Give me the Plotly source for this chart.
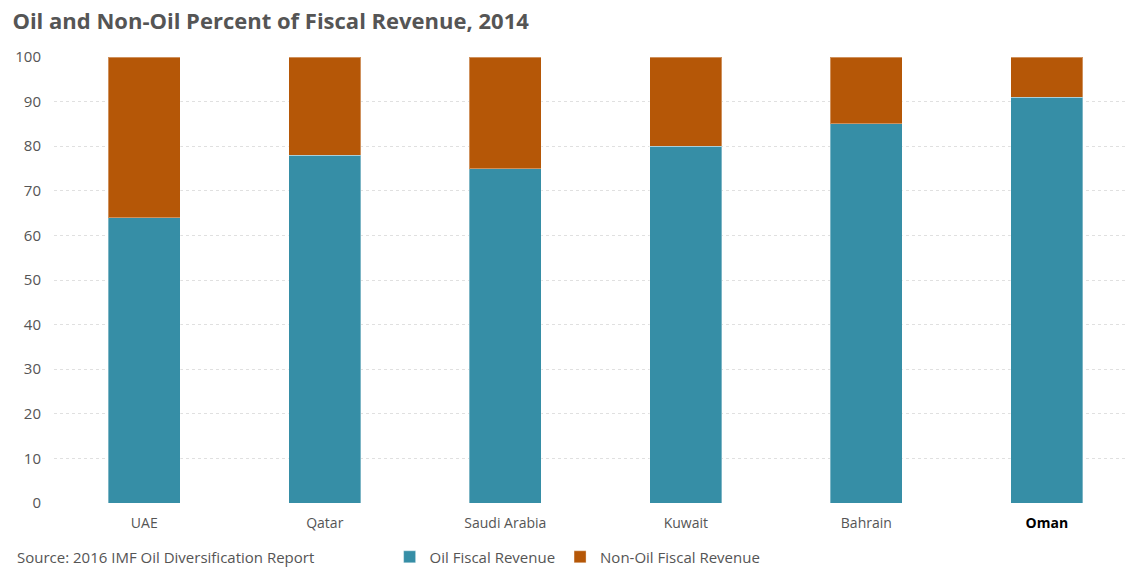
import plotly.graph_objects as go

countries = ["UAE", "Qatar", "Saudi Arabia", "Kuwait", "Bahrain", "Oman"]
oil_share = [64, 78, 75, 80, 85, 91]
non_oil_share = [36, 22, 25, 20, 15, 9]
y_ticks = [0, 10, 20, 30, 40, 50, 60, 70, 80, 90, 100]

tick_text = countries[:-1] + ["<span style='color:#000'><b>Oman</b></span>"]

FONT = "Open Sans, Lato, sans-serif"

fig = go.Figure()
fig.add_trace(go.Bar(
    x=countries, y=oil_share, name="Oil Fiscal Revenue",
    marker=dict(color="#368EA6", line=dict(color="rgba(255,255,255,0.35)", width=1)),
    width=0.4,
))
fig.add_trace(go.Bar(
    x=countries, y=non_oil_share, name="Non-Oil Fiscal Revenue",
    marker=dict(color="#B55707", line=dict(color="rgba(255,255,255,0.35)", width=1)),
    width=0.4,
))

fig.update_layout(
    barmode="stack",
    width=1127, height=569,
    margin=dict(l=54, r=0, t=57, b=66, autoexpand=False),
    paper_bgcolor="white", plot_bgcolor="white",
    font=dict(family=FONT, color="#555555", size=14),
    title=dict(
        text="<b>Oil and Non-Oil Percent of Fiscal Revenue, 2014</b>",
        x=0.011, xanchor="left", y=0.963, yanchor="middle",
        font=dict(family=FONT, size=22, color="#555555"),
    ),
    xaxis=dict(
        type="category", range=[-0.5, 5.444],
        tickmode="array", tickvals=countries, ticktext=tick_text,
        showgrid=False, showline=False, ticks="", ticklabelstandoff=10,
        tickfont=dict(size=14, color="#555555"),
    ),
    yaxis=dict(
        range=[0, 100], tickvals=y_ticks,
        showgrid=True, gridcolor="#e0e0e0", griddash="dot", gridwidth=1,
        zeroline=False, showline=False, ticks="", ticklabelstandoff=12,
        tickfont=dict(size=15, color="#555555"),
    ),
    legend=dict(
        orientation="h", x=0.488, xanchor="center",
        yref="container", y=0.021, yanchor="middle",
        font=dict(size=15, color="#555555"), itemwidth=30,
        traceorder="normal",
    ),
    annotations=[dict(
        text="Source: 2016 IMF Oil Diversification Report",
        xref="paper", yref="paper", x=-0.036, y=-0.121,
        xanchor="left", yanchor="middle", showarrow=False,
        font=dict(size=15, color="#555555"),
    )],
)

fig.write_html("out.html")
